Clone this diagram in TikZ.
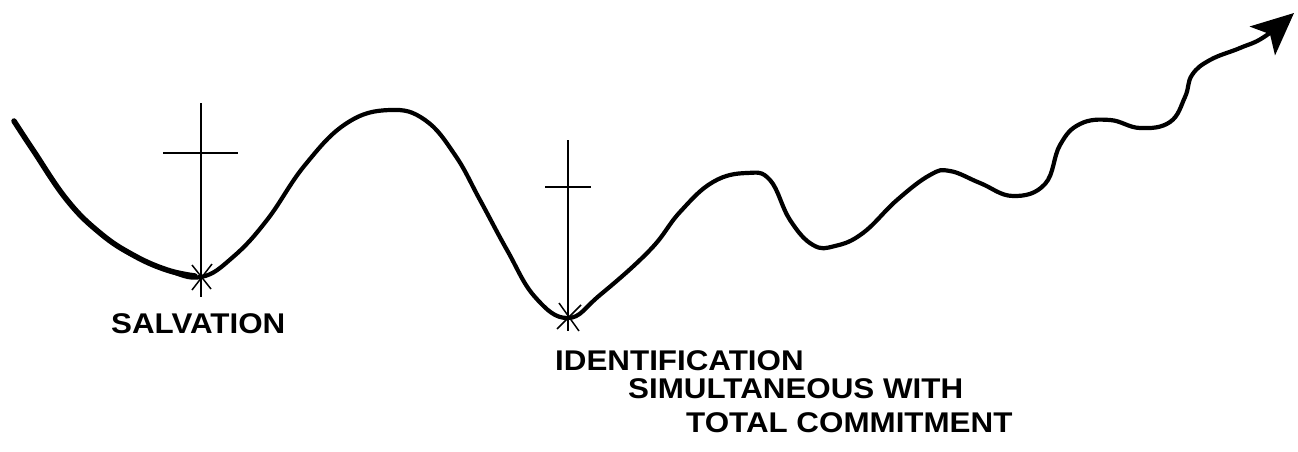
\documentclass[tikz,border=0pt]{standalone}
\usepackage{fontspec}
\newfontfamily\labfont{Liberation Sans}[FakeStretch=1.1]
\usetikzlibrary{arrows.meta}
\begin{document}
\begin{tikzpicture}[x=1pt,y=-1pt,
  curve/.style={line width=4.2pt, line cap=round, line join=round},
  crossline/.style={line width=2.2pt},
  starline/.style={line width=1.5pt},
  lab/.style={anchor=base west, inner sep=0pt, font=\labfont\bfseries\fontsize{28.5}{30}\selectfont}]
\useasboundingbox (0,0) rectangle (1298,452);
% key points
\coordinate (s) at (201,277);
\coordinate (p) at (568,318);
% thick left tail
\draw[line width=5.5pt, line cap=round, line join=round] plot[smooth, tension=0.7] coordinates
  {(14,121) (33,150) (67,200) (100,233) (133,255) (167,270) (195,276)};
% whole curve, with arrow
\draw[curve, -{Stealth[length=42pt,width=38pt,inset=10pt]}] plot[smooth, tension=0.7] coordinates
  {(14,121) (33,150) (67,200) (100,233) (133,255) (167,270) (201,277)
   (233,257) (267,220) (305,165) (347,123) (390,110) (425,120)
   (455,155) (480,200) (507,250) (535,297) (568,318)
   (600,295) (650,250) (680,212) (713,182) (747,173) (770,180)
   (790,220) (813,245) (835,246) (863,233) (897,200) (930,175) (950,171)
   (980,183) (1013,196) (1045,184) (1060,145) (1080,124) (1110,120) (1140,128)
   (1170,122) (1185,97) (1192,75) (1210,60) (1240,48) (1264,37) (1294,13)};
% cross 1
\draw[crossline] (201,103) -- (201,297);
\draw[crossline] (163,153) -- (238,153);
\draw[starline] (192,265) -- (211,289);
\draw[starline] (212,264) -- (192,290);
% cross 2
\draw[crossline] (568,140) -- (568,331);
\draw[crossline] (545,187) -- (591,187);
\draw[starline] (559,303) -- (579,331);
\draw[starline] (581,305) -- (557,329);
% labels
\node[lab] (salv) at (111,333) {SALVATION};
\node[lab] (ident) at (555,370) {IDENTIFICATION};
\node[lab] (simul) at (628,398) {SIMULTANEOUS WITH};
\node[lab] (total) at (686,432) {TOTAL COMMITMENT};
\end{tikzpicture}
\end{document}
